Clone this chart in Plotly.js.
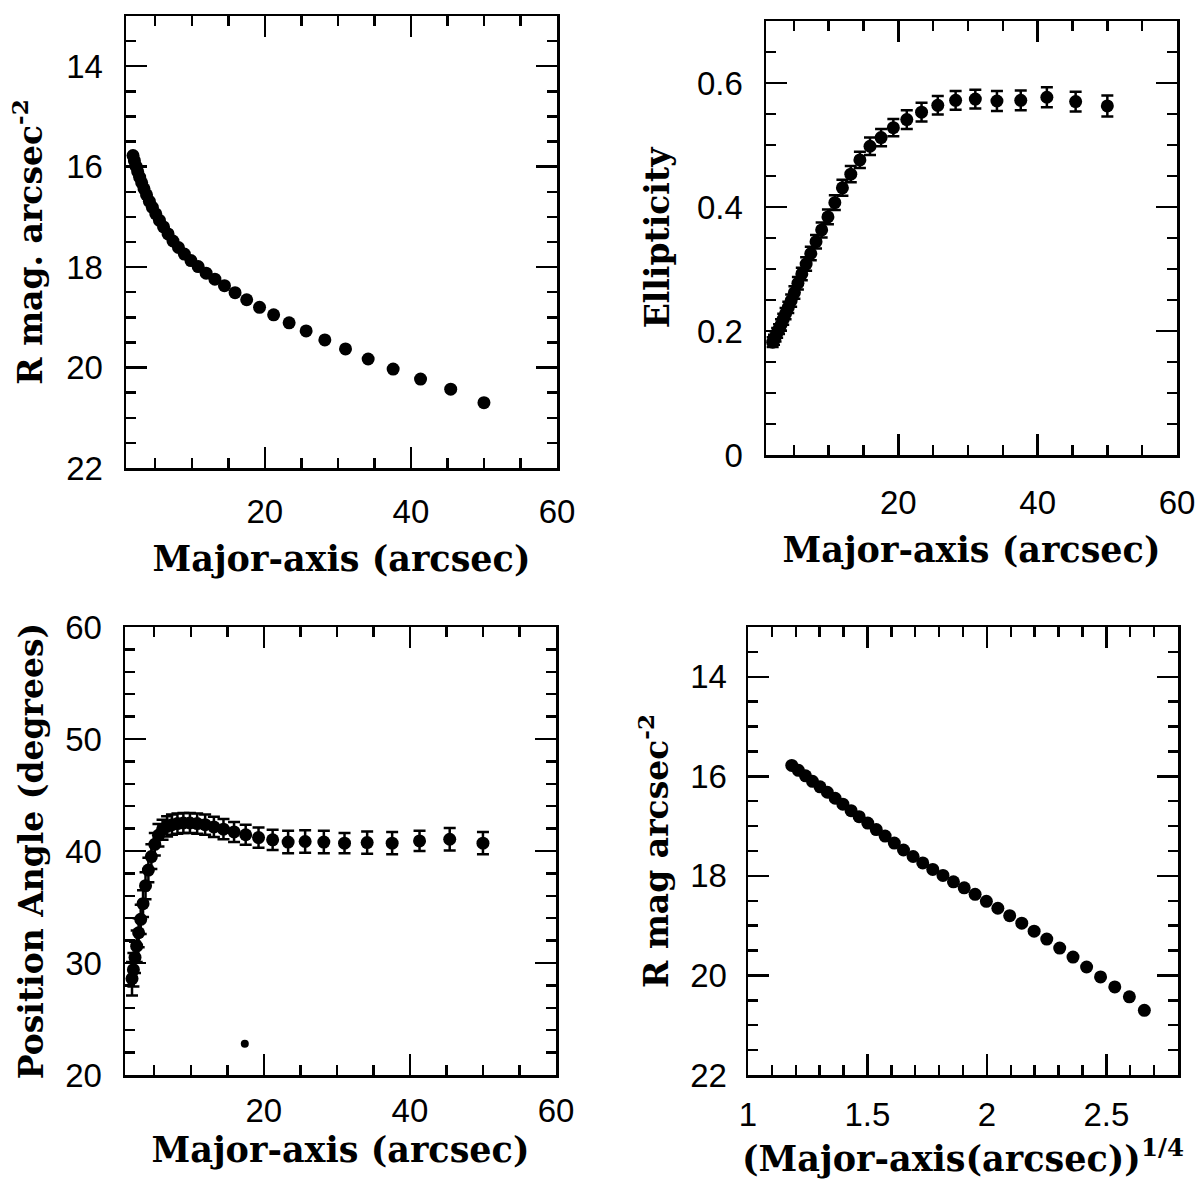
<!DOCTYPE html>
<html><head><meta charset="utf-8">
<script src="https://cdn.plot.ly/plotly-3.0.1.min.js"></script>
<style>html,body{margin:0;padding:0;background:#fff;}#chart{width:1198px;height:1189px;}</style>
</head><body><div id="chart"></div>
<script>
// Semi-major axis of each isophote (arcsec)
const majorAxis = [1.96, 2.15, 2.37, 2.60, 2.87, 3.15, 3.47, 3.81, 4.20, 4.61, 5.08, 5.58, 6.14, 6.76, 7.43, 8.18, 8.99, 9.89, 10.88, 11.97, 13.17, 14.48, 15.93, 17.52, 19.28, 21.21, 23.33, 25.66, 28.22, 31.05, 34.15, 37.57, 41.32, 45.45, 50.00];
// R surface brightness (mag arcsec^-2)
const surfaceBrightness = [15.78, 15.88, 15.99, 16.10, 16.21, 16.32, 16.44, 16.56, 16.69, 16.81, 16.94, 17.07, 17.20, 17.34, 17.48, 17.61, 17.74, 17.87, 17.99, 18.12, 18.24, 18.37, 18.51, 18.65, 18.80, 18.95, 19.11, 19.27, 19.45, 19.63, 19.83, 20.03, 20.23, 20.43, 20.70];
// Ellipticity and its error
const ellipticity = [0.182, 0.186, 0.191, 0.197, 0.203, 0.210, 0.219, 0.228, 0.238, 0.249, 0.262, 0.277, 0.292, 0.308, 0.325, 0.344, 0.363, 0.384, 0.407, 0.431, 0.453, 0.476, 0.498, 0.512, 0.528, 0.541, 0.553, 0.564, 0.572, 0.574, 0.571, 0.572, 0.577, 0.570, 0.563];
const ellipticityErr = [0.008, 0.008, 0.008, 0.008, 0.008, 0.009, 0.009, 0.009, 0.009, 0.010, 0.010, 0.010, 0.010, 0.011, 0.011, 0.011, 0.012, 0.012, 0.012, 0.013, 0.013, 0.013, 0.014, 0.014, 0.014, 0.015, 0.015, 0.015, 0.015, 0.015, 0.016, 0.016, 0.016, 0.016, 0.017];
// Position angle (degrees) and its error
const positionAngle = [28.6, 29.4, 30.5, 31.5, 32.7, 33.9, 35.3, 36.9, 38.3, 39.5, 40.6, 41.4, 41.9, 42.2, 42.35, 42.45, 42.5, 42.5, 42.45, 42.35, 42.15, 41.95, 41.7, 41.45, 41.2, 41.0, 40.8, 40.85, 40.8, 40.7, 40.75, 40.7, 40.9, 41.05, 40.7];
const positionAngleErr = [1.5, 1.5, 1.4, 1.4, 1.3, 1.3, 1.2, 1.2, 1.1, 1.1, 1.0, 1.0, 0.9, 0.9, 0.9, 0.9, 0.9, 0.9, 0.9, 0.9, 0.9, 0.9, 0.9, 0.9, 0.9, 0.9, 1.0, 1.0, 1.0, 0.9, 1.0, 1.0, 0.9, 1.0, 1.0];
// Isolated position-angle point
const paOutlierX = [17.4];
const paOutlierY = [22.8];

const majorAxisQuarter = majorAxis.map(v => Math.pow(v, 0.25));

const W = 1198, H = 1189;
const tickFont = {family: 'Liberation Sans, Arial, sans-serif', size: 33, color: '#000'};

function domainOf(px0, px1, horizontal) {
  return horizontal ? [px0 / W, px1 / W] : [1 - px1 / H, 1 - px0 / H];
}

function axis(px0, px1, horizontal, range, dtick, minorDtick, title, labelGap, titleGap, titleSize, extra) {
  return Object.assign({
    domain: domainOf(px0, px1, horizontal), range: range, autorange: false,
    tick0: 0, dtick: dtick, ticks: 'inside', ticklen: 21, tickwidth: 2.5, tickcolor: '#000',
    mirror: true, showline: true, linewidth: 2.5, linecolor: '#000',
    showgrid: false, zeroline: false, fixedrange: true,
    minor: {dtick: minorDtick, tick0: 0, ticks: 'inside', ticklen: 10, tickwidth: 2.5, tickcolor: '#000', showgrid: false},
    tickfont: tickFont,
    ticklabelstandoff: labelGap,
    title: {text: title, font: {family: 'DejaVu Serif, serif', size: titleSize, color: '#000', weight: 'bold'}, standoff: titleGap}
  }, extra || {});
}

// tick-only axes for the top and right edges of each box
function mirrorAxis(px0, px1, horizontal, range, dtick, minorDtick, extra) {
  return Object.assign({
    domain: domainOf(px0, px1, horizontal), range: range, autorange: false,
    tick0: 0, dtick: dtick, ticks: 'inside', ticklen: 21, tickwidth: 2.5, tickcolor: '#000',
    showline: false, showgrid: false, zeroline: false, fixedrange: true, showticklabels: false,
    minor: {dtick: minorDtick, tick0: 0, ticks: 'inside', ticklen: 10, tickwidth: 2.5, tickcolor: '#000', showgrid: false}
  }, extra || {});
}

const marker = {color: '#000', size: 13, line: {width: 0}};
const errStyle = (arr) => ({type: 'data', array: arr, visible: true, color: '#000', thickness: 2.5, width: 6});

const traces = [
  {x: majorAxis, y: surfaceBrightness, xaxis: 'x', yaxis: 'y', type: 'scatter', mode: 'markers', marker: marker, name: 'mu'},
  {x: majorAxis, y: ellipticity, error_y: errStyle(ellipticityErr), xaxis: 'x2', yaxis: 'y2', type: 'scatter', mode: 'markers', marker: marker, name: 'ell'},
  {x: majorAxis, y: positionAngle, error_y: errStyle(positionAngleErr), xaxis: 'x3', yaxis: 'y3', type: 'scatter', mode: 'markers', marker: marker, name: 'pa'},
  {x: paOutlierX, y: paOutlierY, xaxis: 'x3', yaxis: 'y3', type: 'scatter', mode: 'markers', marker: {color: '#000', size: 8}, name: 'pa2'},
  {x: majorAxisQuarter, y: surfaceBrightness, xaxis: 'x4', yaxis: 'y4', type: 'scatter', mode: 'markers', marker: marker, name: 'mu4'},
  {x: [], y: [], xaxis: 'x5', yaxis: 'y5', type: 'scatter', mode: 'markers', hoverinfo: 'skip'},
  {x: [], y: [], xaxis: 'x6', yaxis: 'y6', type: 'scatter', mode: 'markers', hoverinfo: 'skip'},
  {x: [], y: [], xaxis: 'x7', yaxis: 'y7', type: 'scatter', mode: 'markers', hoverinfo: 'skip'},
  {x: [], y: [], xaxis: 'x8', yaxis: 'y8', type: 'scatter', mode: 'markers', hoverinfo: 'skip'}
];

const P1 = {x: [126, 557], y: [16, 468]};
const P2 = {x: [766, 1177], y: [21, 455]};
const P3 = {x: [125, 556], y: [627, 1075]};
const P4 = {x: [748, 1178], y: [627, 1075]};

const layout = {
  width: W, height: H,
  margin: {l: 0, r: 0, t: 0, b: 0, pad: 0},
  paper_bgcolor: '#fff', plot_bgcolor: '#fff',
  showlegend: false,
  xaxis: axis(P1.x[0], P1.x[1], true, [1, 60], 20, 5, 'Major-axis (arcsec)', 13, 18, 35, {anchor: 'y'}),
  yaxis: axis(P1.y[0], P1.y[1], false, [22, 13], 2, 0.5, 'R mag. arcsec<sup>-2</sup>', 14, 14, 33, {anchor: 'x'}),
  xaxis2: axis(P2.x[0], P2.x[1], true, [1, 60], 20, 5, 'Major-axis (arcsec)', 17, 18, 35, {anchor: 'y2'}),
  yaxis2: axis(P2.y[0], P2.y[1], false, [0, 0.7], 0.2, 0.05, 'Ellipticity', 14, 18, 33, {anchor: 'x2'}),
  xaxis3: axis(P3.x[0], P3.x[1], true, [1, 60], 20, 5, 'Major-axis (arcsec)', 5, 3, 35, {anchor: 'y3'}),
  yaxis3: axis(P3.y[0], P3.y[1], false, [20, 60], 10, 2, 'Position Angle (degrees)', 14, 12, 33, {anchor: 'x3'}),
  xaxis4: axis(P4.x[0], P4.x[1], true, [1, 2.8], 0.5, 0.1, '(Major-axis(arcsec))<sup>1/4</sup>', 9, 10, 35, {anchor: 'y4'}),
  yaxis4: axis(P4.y[0], P4.y[1], false, [22, 13], 2, 0.5, 'R mag arcsec<sup>-2</sup>', 12, 12, 33, {anchor: 'x4'}),
  xaxis5: mirrorAxis(P1.x[0], P1.x[1], true, [1, 60], 20, 5, {overlaying: 'x', side: 'top', anchor: 'y'}),
  yaxis5: mirrorAxis(P1.y[0], P1.y[1], false, [22, 13], 2, 0.5, {overlaying: 'y', side: 'right', anchor: 'x'}),
  xaxis6: mirrorAxis(P2.x[0], P2.x[1], true, [1, 60], 20, 5, {overlaying: 'x2', side: 'top', anchor: 'y2'}),
  yaxis6: mirrorAxis(P2.y[0], P2.y[1], false, [0, 0.7], 0.2, 0.05, {overlaying: 'y2', side: 'right', anchor: 'x2'}),
  xaxis7: mirrorAxis(P3.x[0], P3.x[1], true, [1, 60], 20, 5, {overlaying: 'x3', side: 'top', anchor: 'y3'}),
  yaxis7: mirrorAxis(P3.y[0], P3.y[1], false, [20, 60], 10, 2, {overlaying: 'y3', side: 'right', anchor: 'x3'}),
  xaxis8: mirrorAxis(P4.x[0], P4.x[1], true, [1, 2.8], 0.5, 0.1, {overlaying: 'x4', side: 'top', anchor: 'y4'}),
  yaxis8: mirrorAxis(P4.y[0], P4.y[1], false, [22, 13], 2, 0.5, {overlaying: 'y4', side: 'right', anchor: 'x4'})
};

Plotly.newPlot('chart', traces, layout, {displayModeBar: false, staticPlot: true});
</script>
</body></html>
